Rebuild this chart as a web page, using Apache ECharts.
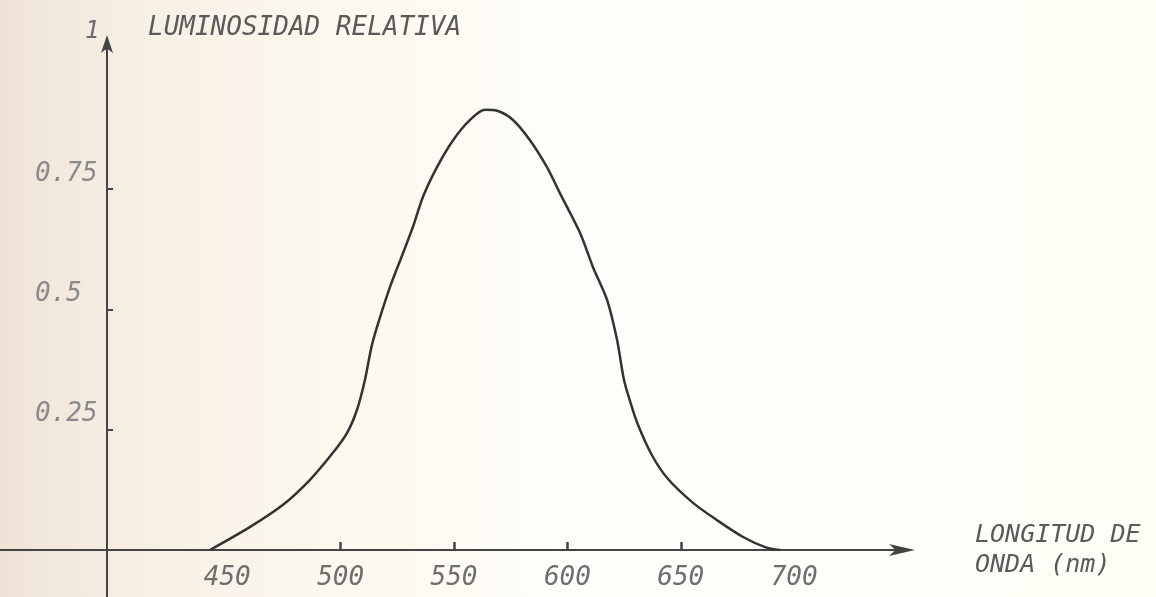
<!DOCTYPE html>
<html>
<head>
<meta charset="utf-8">
<script src="https://cdn.jsdelivr.net/npm/echarts@6/dist/echarts.min.js"></script>
<style>
html,body{margin:0;padding:0;background:#fdfaf2;}
#c{width:1156px;height:597px;}
</style>
</head>
<body>
<div id="c"></div>
<script>
// Wavelength (nm) and relative luminosity
var wavelength = [442.4, 460.1, 474.6, 486.5, 496.6, 502.8, 507.2, 510.7, 513.8, 517.4, 521.8, 527.5, 531.9, 536.3, 542.5, 549.6, 557.1, 563.7, 569.0, 576.0, 583.5, 591.0, 596.7, 605.6, 611.3, 617.5, 621.9, 624.9, 627.6, 631.0, 637.3, 644.3, 655.4, 666.0, 677.5, 687.2, 693.8];
var luminosity = [0.000, 0.048, 0.094, 0.146, 0.202, 0.243, 0.291, 0.353, 0.426, 0.484, 0.547, 0.617, 0.672, 0.734, 0.796, 0.852, 0.894, 0.915, 0.913, 0.894, 0.852, 0.796, 0.742, 0.659, 0.588, 0.520, 0.437, 0.355, 0.310, 0.262, 0.197, 0.148, 0.098, 0.062, 0.027, 0.006, 0.000];
var xTickLabels = [450, 500, 550, 600, 650, 700];
var xTickMarks = [500, 550, 600, 650];
var yTickLabels = [0.25, 0.5, 0.75];
var yTopLabel = '1';
var yAxisTitle = 'LUMINOSIDAD RELATIVA';
var xAxisTitle = 'LONGITUD DE\nONDA (nm)';

var X_MIN = 349.8, X_MAX = 748, Y_MIN = 0, Y_MAX = 1.054, Y_BELOW = -0.098;

var chart = echarts.init(document.getElementById('c'), null, {renderer: 'canvas'});
var font = '"DejaVu Sans Mono", monospace';
var axisColor = '#444444';
var option = {
  backgroundColor: new echarts.graphic.LinearGradient(0, 0, 1, 0, [
    {offset: 0, color: '#eee2d5'},
    {offset: 0.09, color: '#f5ede2'},
    {offset: 0.28, color: '#fcf8ee'},
    {offset: 0.5, color: '#fffefa'},
    {offset: 1, color: '#fefdf6'}
  ]),
  animation: false,
  grid: [
    {left: 0, right: 253, top: 43, bottom: 47, containLabel: false},
    {left: 0, right: 253, top: 550, bottom: 0, containLabel: false}
  ],
  xAxis: [{
    type: 'value',
    gridIndex: 0,
    min: X_MIN, max: X_MAX,
    name: xAxisTitle,
    nameLocation: 'end',
    nameGap: 72,
    nameTextStyle: {fontFamily: font, fontStyle: 'italic', fontSize: 25, color: '#5a5a5a', align: 'left', verticalAlign: 'middle', lineHeight: 30, padding: [0, 0, 28, 0]},
    axisLine: {show: true, onZero: false, symbol: ['none', 'arrow'], symbolSize: [9, 26], symbolOffset: [0, 12], lineStyle: {color: axisColor, width: 2}},
    axisTick: {show: true, inside: true, length: 8, customValues: xTickMarks, lineStyle: {color: axisColor, width: 2.5}},
    axisLabel: {show: true, customValues: xTickLabels, margin: 15, fontFamily: font, fontStyle: 'italic', fontSize: 26, color: '#6e6e6e'},
    splitLine: {show: false}
  }, {
    type: 'value',
    gridIndex: 1,
    min: X_MIN, max: X_MAX,
    show: false
  }],
  yAxis: [{
    type: 'value',
    gridIndex: 0,
    position: 'left',
    offset: -107,
    min: Y_MIN, max: Y_MAX,
    name: yAxisTitle,
    nameLocation: 'end',
    nameGap: 2,
    nameTextStyle: {fontFamily: font, fontStyle: 'italic', fontSize: 26, color: '#5a5a5a', align: 'left', padding: [0, 0, 0, 41]},
    axisLine: {show: true, onZero: false, symbol: ['none', 'arrow'], symbolSize: [9, 18], symbolOffset: [0, 8], lineStyle: {color: axisColor, width: 2}},
    axisTick: {show: true, inside: true, length: 6, customValues: yTickLabels, lineStyle: {color: axisColor, width: 2}},
    axisLabel: {
      show: true,
      customValues: yTickLabels.concat([Y_MAX]),
      margin: 72,
      align: 'left',
      verticalAlign: 'bottom',
      lineHeight: 30,
      fontFamily: font, fontStyle: 'italic', fontSize: 26, color: '#8a8a8a',
      formatter: function (v) {
        if (v > 0.9) return '{one|' + yTopLabel + '}';
        return String(v);
      },
      rich: {one: {fontFamily: font, fontStyle: 'italic', fontSize: 24, color: '#6a6a6a', padding: [0, 0, 0, 50], lineHeight: 22}}
    },
    splitLine: {show: false}
  }, {
    type: 'value',
    gridIndex: 1,
    position: 'left',
    offset: -107,
    min: Y_BELOW, max: 0,
    axisLine: {show: true, onZero: false, lineStyle: {color: axisColor, width: 2}},
    axisTick: {show: false},
    axisLabel: {show: false},
    splitLine: {show: false}
  }],
  series: [{
    type: 'line',
    xAxisIndex: 0,
    yAxisIndex: 0,
    data: wavelength.map(function (w, i) { return [w, luminosity[i]]; }),
    showSymbol: false,
    smooth: 0.3,
    lineStyle: {color: '#333333', width: 2.5},
    silent: true
  }]
};
chart.setOption(option);
</script>
</body>
</html>
